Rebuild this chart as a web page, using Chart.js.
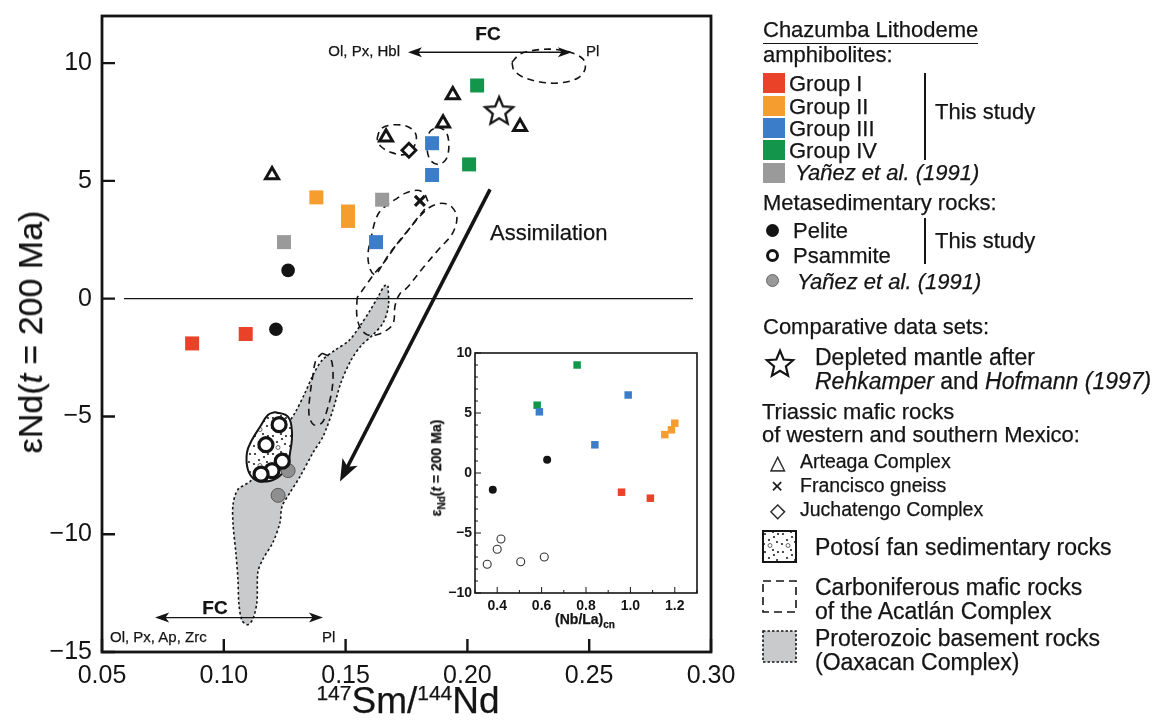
<!DOCTYPE html>
<html><head><meta charset="utf-8">
<script src="https://cdn.jsdelivr.net/npm/chart.js@4.4.1/dist/chart.umd.min.js"></script>
<style>
html,body{margin:0;padding:0;background:#fff;}
#wrap{position:relative;width:1159px;height:725px;overflow:hidden;font-family:"Liberation Sans",Arial,sans-serif;color:#141414;}
canvas{position:absolute;}
svg{position:absolute;}
.t{position:absolute;white-space:nowrap;line-height:1;transform:translateY(-50%);-webkit-text-stroke:0.25px #141414;}
</style></head><body>
<div id="wrap">
<canvas id="main" width="1159" height="725" style="left:0;top:0;width:1159px;height:725px"></canvas>
<canvas id="inset" width="280" height="290" style="left:425px;top:343px;width:280px;height:290px"></canvas>
<svg style="left:762px;top:580px" width="35" height="33"><rect x="1" y="1" width="33" height="31" fill="none" stroke="#141414" stroke-width="1.6" stroke-dasharray="8,5"/></svg>
<svg style="left:762px;top:630px" width="35" height="33"><rect x="1" y="1" width="33" height="31" fill="#c9cacb" stroke="#141414" stroke-width="1.6" stroke-dasharray="2.5,2"/></svg>
</div>
<script>
// ---------------- DATA (main panel: 147Sm/144Nd vs eNd) ----------------
const xTicks = [0.05, 0.10, 0.15, 0.20, 0.25, 0.30];
const yTicks = [-15, -10, -5, 0, 5, 10];

const groupI_x = [0.087, 0.109];            const groupI_y = [-1.9, -1.5];
const groupII_x = [0.138, 0.151, 0.151];    const groupII_y = [4.3, 3.7, 3.3];
const groupIII_x = [0.1625, 0.1855, 0.1855];const groupIII_y = [2.4, 5.25, 6.6];
const groupIV_x = [0.2007, 0.204];          const groupIV_y = [5.7, 9.05];
const yanezSq_x = [0.1247, 0.165];          const yanezSq_y = [2.4, 4.2];
const pelite_x = [0.1214, 0.1264];          const pelite_y = [-1.3, 1.2];
const psammite_x = [0.1227, 0.1173, 0.124, 0.1198, 0.1153];
const psammite_y = [-5.35, -6.2, -6.9, -7.3, -7.45];
const yanezCirc_x = [0.1264, 0.1223];       const yanezCirc_y = [-7.3, -8.35];
const arteaga_x = [0.1198, 0.1666, 0.190, 0.194, 0.2216];
const arteaga_y = [5.25, 6.85, 7.45, 8.65, 7.3];
const depleted_x = [0.213];                 const depleted_y = [8.0];
const francisco_x = [0.1805];               const francisco_y = [4.15];
const juchatengo_x = [0.176];               const juchatengo_y = [6.3];

const zeroLine_x = [0.059, 0.2926];         const zeroLine_y = [0, 0];

// Proterozoic basement field (Oaxacan Complex) outline
const prot_x = [0.1674,0.1676,0.1655,0.1610,0.1565,0.1522,0.1480,0.1448,0.1407,0.1366,0.1313,0.1272,0.1239,0.1231,0.1202,0.1161,0.1140,0.1136,0.1120,0.1099,
                0.1075,0.1062,0.1058,0.1050,0.1038,0.1038,0.1058,0.1108,0.1157,0.1198,0.1239,0.1292,0.1333,0.1366,0.1403,0.1456,0.1515,0.1560,0.1600,0.1636,0.1660,0.1674];
const prot_y = [0.55,-0.30,-1.01,-1.56,-1.98,-2.62,-3.59,-4.73,-5.86,-6.54,-7.55,-8.23,-8.82,-9.49,-10.34,-11.05,-11.60,-12.87,-13.59,-13.84,
                -13.67,-12.95,-11.90,-10.84,-9.58,-8.73,-8.10,-7.76,-7.17,-6.41,-5.70,-4.85,-4.01,-3.25,-2.62,-2.19,-1.77,-1.14,-0.51,0.13,0.55,0.55];
// Potosi fan field
const potosi_x = [0.1210,0.1264,0.1280,0.1272,0.1259,0.1222,0.1177,0.1128,0.1099,0.1095,0.1116,0.1149,0.1181,0.1210];
const potosi_y = [-4.81,-5.02,-5.70,-6.54,-7.13,-7.59,-7.76,-7.68,-7.26,-6.54,-5.99,-5.44,-4.94,-4.81];
// Carboniferous mafic rock fields (Acatlan Complex)
const carbA_x = [0.1629,0.1645,0.1695,0.1756,0.1789,0.1781,0.1744,0.1690,0.1645,0.1629];
const carbA_y = [6.79,7.21,7.38,7.30,6.96,6.46,6.12,6.20,6.46,6.79];
const carbB_x = [0.1879,0.1912,0.1924,0.1912,0.1879,0.1846,0.1834,0.1846,0.1879];
const carbB_y = [7.30,7.09,6.50,5.91,5.70,5.91,6.50,7.09,7.30];
const carbC_x = [0.1838,0.1822,0.1793,0.1744,0.1711,0.1674,0.1641,0.1621,0.1608,0.1592,0.1600,0.1621,0.1641,0.1682,0.1736,0.1785,0.1838];
const carbC_y = [4.13,4.47,4.60,4.47,4.26,4.01,3.71,3.29,2.74,1.90,1.27,1.01,1.27,1.94,2.62,3.29,3.97];
const carbD_x = [0.1547,0.1547,0.1567,0.1600,0.1654,0.1695,0.1703,0.1723,0.1752,0.1818,0.1887,0.1937,0.1957,0.1937,0.1896,0.1846,0.1805,0.1764,0.1711,0.1662,0.1621,0.1588,0.1547];
const carbD_y = [0.04,-0.80,-1.35,-1.56,-1.43,-1.05,-0.30,0.21,0.46,1.31,2.15,2.74,3.42,3.88,4.05,3.88,3.50,3.00,2.32,1.60,1.10,0.63,0.04];
const carbE_x = [0.1403,0.1436,0.1448,0.1444,0.1424,0.1403,0.1370,0.1350,0.1354,0.1366,0.1378,0.1403];
const carbE_y = [-2.32,-2.49,-3.04,-3.88,-4.73,-5.27,-5.36,-4.94,-4.09,-3.25,-2.62,-2.32];
const carbF_x = [0.2183,0.2216,0.2278,0.2347,0.2421,0.2475,0.2483,0.2454,0.2380,0.2298,0.2228,0.2191,0.2183];
const carbF_y = [10.04,10.38,10.55,10.59,10.46,10.17,9.75,9.37,9.16,9.20,9.41,9.70,10.04];

// process arrows [start, end]
const assim_x = [0.2093, 0.1477];   const assim_y = [4.64, -7.76];
const fcTop_x = [0.1756, 0.2429];   const fcTop_y = [10.46, 10.46];
const fcBot_x = [0.0718, 0.1407];   const fcBot_y = [-13.54, -13.54];

// ---------------- DATA (inset: (Nb/La)cn vs eNd) ----------------
const inXTicks = [0.4, 0.6, 0.8, 1.0, 1.2];
const inYTicks = [-10, -5, 0, 5, 10];
const inGroupI_x = [0.96, 1.09];            const inGroupI_y = [-1.6, -2.1];
const inGroupII_x = [1.155, 1.185, 1.2];    const inGroupII_y = [3.2, 3.6, 4.15];
const inGroupIII_x = [0.59, 0.84, 0.99];    const inGroupIII_y = [5.1, 2.35, 6.5];
const inGroupIV_x = [0.58, 0.76];           const inGroupIV_y = [5.65, 9.0];
const inPelite_x = [0.38, 0.625];           const inPelite_y = [-1.4, 1.1];
const inPsammite_x = [0.355, 0.4, 0.417, 0.506, 0.612];
const inPsammite_y = [-7.6, -6.35, -5.5, -7.4, -7.0];

// ---------------- STYLE ----------------
const FONT = '"Liberation Sans", Arial, sans-serif';
const INK = '#141414';
const C_RED = '#ea4129', C_ORA = '#f59d2f', C_BLU = '#3b7dc9', C_GRN = '#13964b', C_GRY = '#9a9a9a', C_FIELD = '#c9cacb';

const P = (xs, ys) => xs.map((v, i) => ({x: v, y: ys[i]}));

function starCanvas(size, lw) {
  const c = document.createElement('canvas'); c.width = c.height = size;
  const g = c.getContext('2d'); const cx = size / 2, cy = size / 2 + 1.5, R = size / 2 - lw, r = R * 0.45;
  g.beginPath();
  for (let i = 0; i < 10; i++) { const a = -Math.PI / 2 + i * Math.PI / 5; const rr = i % 2 ? r : R; g.lineTo(cx + rr * Math.cos(a), cy + rr * Math.sin(a)); }
  g.closePath(); g.fillStyle = '#fff'; g.fill(); g.lineWidth = lw; g.strokeStyle = INK; g.lineJoin = 'miter'; g.stroke();
  return c;
}
function patternTile() {
  const c = document.createElement('canvas'); c.width = 18; c.height = 18;
  const g = c.getContext('2d'); g.fillStyle = '#fff'; g.fillRect(0, 0, 18, 18);
  g.fillStyle = '#222';
  [[3,4],[11,2],[7,10],[15,12],[2,14],[12,7],[16,4]].forEach(([a,b]) => { g.beginPath(); g.arc(a, b, 1.1, 0, 7); g.fill(); });
  g.strokeStyle = '#444'; g.lineWidth = 0.8; g.beginPath(); g.arc(8, 15.5, 2, 0, 7); g.stroke();
  return c;
}

function arrowHead(ctx, x1, y1, x2, y2, len, hw) {
  const a = Math.atan2(y2 - y1, x2 - x1), ca = Math.cos(a), sa = Math.sin(a);
  ctx.beginPath();
  ctx.moveTo(x2, y2);
  ctx.lineTo(x2 - len * ca + hw * sa, y2 - len * sa - hw * ca);
  ctx.lineTo(x2 - len * 0.75 * ca, y2 - len * 0.75 * sa);
  ctx.lineTo(x2 - len * ca - hw * sa, y2 - len * sa + hw * ca);
  ctx.closePath(); ctx.fill();
}
function arrow(ctx, xs, ys, sx, sy, lw, len, hw, both) {
  const x1 = sx.getPixelForValue(xs[0]), y1 = sy.getPixelForValue(ys[0]);
  const x2 = sx.getPixelForValue(xs[1]), y2 = sy.getPixelForValue(ys[1]);
  const a = Math.atan2(y2 - y1, x2 - x1);
  ctx.lineWidth = lw; ctx.strokeStyle = INK; ctx.fillStyle = INK;
  ctx.beginPath();
  ctx.moveTo(both ? x1 + len * 0.7 * Math.cos(a) : x1, both ? y1 + len * 0.7 * Math.sin(a) : y1);
  ctx.lineTo(x2 - len * 0.7 * Math.cos(a), y2 - len * 0.7 * Math.sin(a));
  ctx.stroke();
  arrowHead(ctx, x1, y1, x2, y2, len, hw);
  if (both) arrowHead(ctx, x2, y2, x1, y1, len, hw);
}

const mainDecor = {
  id: 'mainDecor',
  afterDatasetsDraw(chart) {
    const {ctx, chartArea: a, scales: {x, y}} = chart;
    ctx.save();
    arrow(ctx, assim_x, assim_y, x, y, 3.6, 22, 8.5, false);
    arrow(ctx, fcTop_x, fcTop_y, x, y, 1.4, 14, 5, true);
    arrow(ctx, fcBot_x, fcBot_y, x, y, 1.4, 14, 5, true);
    ctx.strokeStyle = INK; ctx.lineWidth = 2.8;
    ctx.strokeRect(a.left, a.top, a.width, a.height);
    ctx.lineWidth = 2.4;
    ctx.beginPath();
    xTicks.forEach(v => { const p = x.getPixelForValue(v); ctx.moveTo(p, a.bottom); ctx.lineTo(p, a.bottom - 13); });
    yTicks.forEach(v => { const p = y.getPixelForValue(v); ctx.moveTo(a.left, p); ctx.lineTo(a.left + 13, p); });
    ctx.stroke();
    ctx.restore();
  }
};

const mainCtx = document.getElementById('main').getContext('2d');
const potosiPattern = mainCtx.createPattern(patternTile(), 'repeat');
const starImg = starCanvas(34, 2.3);

const sq = (label, xs, ys, col, r) => ({label, data: P(xs, ys), pointStyle: 'rect', pointRadius: r, backgroundColor: col, borderColor: col, borderWidth: 0, showLine: false, order: 2});
const shape = (label, xs, ys, opts) => Object.assign({label, data: P(xs, ys), showLine: true, pointRadius: 0, tension: 0.35, fill: false, borderColor: INK, borderWidth: 1.6, borderDash: [7, 5], order: 18}, opts);

new Chart(mainCtx, {
  type: 'scatter',
  data: {datasets: [
    shape('Oaxacan', prot_x, prot_y, {fill: 'shape', backgroundColor: C_FIELD, borderDash: [2.5, 2.5], borderWidth: 1.6, tension: 0.3, order: 30}),
    shape('Carb A', carbA_x, carbA_y, {}),
    shape('Carb B', carbB_x, carbB_y, {}),
    shape('Carb C', carbC_x, carbC_y, {}),
    shape('Carb D', carbD_x, carbD_y, {}),
    shape('Carb E', carbE_x, carbE_y, {}),
    shape('Carb F', carbF_x, carbF_y, {}),
    shape('Potosi', potosi_x, potosi_y, {fill: 'shape', backgroundColor: potosiPattern, borderDash: [], borderWidth: 2, tension: 0.4, order: 12}),
    {label: 'zero', data: P(zeroLine_x, zeroLine_y), showLine: true, pointRadius: 0, borderColor: INK, borderWidth: 1.4, order: 15},
    sq('Group I', groupI_x, groupI_y, C_RED, 9.9),
    sq('Group II', groupII_x, groupII_y, C_ORA, 9.9),
    sq('Group III', groupIII_x, groupIII_y, C_BLU, 9.9),
    sq('Group IV', groupIV_x, groupIV_y, C_GRN, 9.9),
    sq('Yanez sq', yanezSq_x, yanezSq_y, C_GRY, 9.9),
    {label: 'Pelite', data: P(pelite_x, pelite_y), pointStyle: 'circle', pointRadius: 6.8, backgroundColor: INK, borderColor: INK, borderWidth: 0, order: 2},
    {label: 'Psammite', data: P(psammite_x, psammite_y), pointStyle: 'circle', pointRadius: 7, backgroundColor: '#fff', borderColor: INK, borderWidth: 3.2, order: 1},
    {label: 'Yanez circ', data: P(yanezCirc_x, yanezCirc_y), pointStyle: 'circle', pointRadius: 7, backgroundColor: '#8f8f8f', borderColor: '#5a5a5a', borderWidth: 1, order: 2},
    {label: 'Arteaga', data: P(arteaga_x, arteaga_y), pointStyle: 'triangle', pointRadius: 7.5, backgroundColor: '#fff', borderColor: INK, borderWidth: 3, order: 2},
    {label: 'Depleted', data: P(depleted_x, depleted_y), pointStyle: starImg, pointRadius: 15, order: 2},
    {label: 'Francisco', data: P(francisco_x, francisco_y), pointStyle: 'crossRot', pointRadius: 7, borderColor: INK, borderWidth: 3.2, order: 2},
    {label: 'Juchatengo', data: P(juchatengo_x, juchatengo_y), pointStyle: 'rectRot', pointRadius: 7, backgroundColor: '#fff', borderColor: INK, borderWidth: 2.8, order: 2}
  ]},
  options: {
    responsive: false, animation: false, events: [],
    layout: {padding: {left: 0, top: 14, right: 448, bottom: 0}},
    plugins: {legend: {display: false}, tooltip: {enabled: false}},
    scales: {
      x: {type: 'linear', min: 0.05, max: 0.30,
          afterBuildTicks: s => { s.ticks = xTicks.map(v => ({value: v})); },
          afterFit: s => { s.height = 73; s.paddingLeft = 0; s.paddingRight = 0; },
          grid: {display: false, drawTicks: false}, border: {display: false},
          ticks: {padding: 9, color: INK, font: {family: FONT, size: 25}, maxRotation: 0, autoSkip: false, callback: v => v.toFixed(2)}},
      y: {type: 'linear', min: -15, max: 12,
          afterBuildTicks: s => { s.ticks = yTicks.map(v => ({value: v})); },
          afterFit: s => { s.width = 102; s.paddingTop = 0; s.paddingBottom = 0; },
          grid: {display: false, drawTicks: false}, border: {display: false},
          ticks: {padding: 10, color: INK, font: {family: FONT, size: 25}, autoSkip: false, callback: v => v < 0 ? '\u2212' + Math.abs(v) : String(v)}}
    }
  },
  plugins: [mainDecor]
});

// ---------------- INSET ----------------
const insetDecor = {
  id: 'insetDecor',
  beforeDatasetsDraw(chart) {
    const {ctx, chartArea: a} = chart;
    ctx.save(); ctx.fillStyle = '#fff'; ctx.fillRect(a.left, a.top, a.width, a.height); ctx.restore();
  },
  afterDatasetsDraw(chart) {
    const {ctx, chartArea: a, scales: {x, y}} = chart;
    ctx.save();
    ctx.strokeStyle = INK; ctx.lineWidth = 1.6;
    ctx.strokeRect(a.left, a.top, a.width, a.height);
    ctx.lineWidth = 1;
    ctx.beginPath();
    for (let v = -10; v <= 10; v++) { const p = y.getPixelForValue(v); const L = v % 5 === 0 ? 6 : 3; ctx.moveTo(a.left, p); ctx.lineTo(a.left + L, p); }
    for (let k = 3; k <= 13; k++) { const p = x.getPixelForValue(k / 10); const L = k % 2 === 0 ? 6 : 3; ctx.moveTo(p, a.bottom); ctx.lineTo(p, a.bottom - L); }
    ctx.stroke();
    ctx.restore();
  }
};
const isq = (label, xs, ys, col) => ({label, data: P(xs, ys), pointStyle: 'rect', pointRadius: 5.3, backgroundColor: col, borderWidth: 0});
new Chart(document.getElementById('inset').getContext('2d'), {
  type: 'scatter',
  data: {datasets: [
    isq('Group I', inGroupI_x, inGroupI_y, C_RED),
    isq('Group II', inGroupII_x, inGroupII_y, C_ORA),
    isq('Group III', inGroupIII_x, inGroupIII_y, C_BLU),
    isq('Group IV', inGroupIV_x, inGroupIV_y, C_GRN),
    {label: 'Pelite', data: P(inPelite_x, inPelite_y), pointStyle: 'circle', pointRadius: 4, backgroundColor: INK, borderWidth: 0},
    {label: 'Psammite', data: P(inPsammite_x, inPsammite_y), pointStyle: 'circle', pointRadius: 4, backgroundColor: '#fff', borderColor: '#333', borderWidth: 1.1}
  ]},
  options: {
    responsive: false, animation: false, events: [],
    layout: {padding: {left: 0, top: 10, right: 8, bottom: 0}},
    plugins: {legend: {display: false}, tooltip: {enabled: false}},
    scales: {
      x: {type: 'linear', min: 0.3, max: 1.3,
          afterBuildTicks: s => { s.ticks = inXTicks.map(v => ({value: v})); },
          afterFit: s => { s.height = 40; s.paddingLeft = 0; s.paddingRight = 0; },
          grid: {display: false, drawTicks: false}, border: {display: false},
          ticks: {padding: 5, color: INK, font: {family: FONT, size: 14, weight: 'bold'}, maxRotation: 0, autoSkip: false, callback: v => v.toFixed(1)}},
      y: {type: 'linear', min: -10, max: 10,
          afterBuildTicks: s => { s.ticks = inYTicks.map(v => ({value: v})); },
          afterFit: s => { s.width = 50; s.paddingTop = 0; s.paddingBottom = 0; },
          grid: {display: false, drawTicks: false}, border: {display: false},
          ticks: {padding: 3, color: INK, font: {family: FONT, size: 14, weight: 'bold'}, autoSkip: false, callback: v => v < 0 ? '\u2212' + Math.abs(v) : String(v)}}
    }
  },
  plugins: [insetDecor]
});

// ---------------- TEXT & LEGEND (HTML) ----------------
const wrap = document.getElementById('wrap');
function txt(x, cy, html, size, style = '') {
  const d = document.createElement('div'); d.className = 't';
  d.style.cssText = `left:${x}px;top:${cy}px;font-size:${size}px;${style}`;
  d.innerHTML = html; wrap.appendChild(d); return d;
}
function box(x, y, w, h, style) {
  const d = document.createElement('div');
  d.style.cssText = `position:absolute;left:${x}px;top:${y}px;width:${w}px;height:${h}px;box-sizing:border-box;${style}`;
  wrap.appendChild(d); return d;
}
// axis titles
txt(30, 332, 'ε<span>Nd</span>(<i>t</i> = 200 Ma)', 34, 'transform:translate(-50%,-50%) rotate(-90deg);');
txt(408, 700, '<span style="font-size:21px;vertical-align:top;">147</span>Sm/<span style="font-size:21px;vertical-align:top;">144</span>Nd', 37, 'transform:translate(-50%,-50%);');
// annotations
txt(488, 33, 'FC', 19, 'font-weight:bold;transform:translate(-50%,-50%);');
txt(400, 50, 'Ol, Px, Hbl', 15, 'transform:translate(-100%,-50%);');
txt(586, 50, 'Pl', 15);
txt(490, 233, 'Assimilation', 22);
txt(215, 607, 'FC', 19, 'font-weight:bold;transform:translate(-50%,-50%);');
txt(110, 636, 'Ol, Px, Ap, Zrc', 15);
txt(322, 636, 'Pl', 15);
// inset titles
txt(438, 468, 'ε<sub style="font-size:10px">Nd</sub>(<i>t</i> = 200 Ma)', 14, 'font-weight:bold;transform:translate(-50%,-50%) rotate(-90deg);');
txt(585, 621, '(Nb/La)<sub style="font-size:10px">cn</sub>', 14, 'font-weight:bold;transform:translate(-50%,-50%);');

// legend
const LF = 22;
txt(763, 30, '<span style="border-bottom:1.6px solid #141414;padding-bottom:1px">Chazumba Lithodeme</span>', LF);
txt(763, 55, 'amphibolites:', LF);
[[C_RED, 73, 'Group I'], [C_ORA, 96, 'Group II'], [C_BLU, 118, 'Group III'], [C_GRN, 140, 'Group IV']].forEach(([c, t, l]) => {
  box(763, t, 22, 19.5, `background:${c}`);
  txt(789, t + 10.5, l, LF);
});
box(763, 163, 22, 19.5, `background:${C_GRY}`);
txt(795, 173, '<i>Yañez et al. (1991)</i>', LF);
box(924, 73, 1.6, 87, 'background:#141414');
txt(935, 112, 'This study', LF);
txt(763, 203, 'Metasedimentary rocks:', LF);
box(766, 224, 13, 13, 'background:#141414;border-radius:50%');
txt(793, 231, 'Pelite', LF);
box(766, 249, 13, 13, 'background:#fff;border:3px solid #141414;border-radius:50%');
txt(793, 256, 'Psammite', LF);
box(766, 274, 13, 13, 'background:#999;border:1px solid #666;border-radius:50%');
txt(797, 282, '<i>Yañez et al. (1991)</i>', LF);
box(924, 218, 1.6, 46, 'background:#141414');
txt(935, 241, 'This study', LF);
txt(763, 327, 'Comparative data sets:', LF);
const lgStar = starCanvas(32, 2.2); lgStar.style.cssText = 'left:764px;top:347px;';
wrap.appendChild(lgStar);
txt(815, 357, 'Depleted mantle after', 23);
txt(815, 381, '<i>Rehkamper</i> and <i>Hofmann (1997)</i>', 23);
txt(762, 412, 'Triassic mafic rocks', LF);
txt(762, 435, 'of western and southern Mexico:', LF);
txt(777, 462, '△', 20, 'transform:translate(-50%,-50%);');
txt(800, 462, 'Arteaga Complex', 19.5);
txt(777, 486, '×', 20, 'transform:translate(-50%,-50%);');
txt(800, 486, 'Francisco gneiss', 19.5);
txt(777, 510, '◇', 20, 'transform:translate(-50%,-50%);');
txt(800, 510, 'Juchatengo Complex', 19.5);
const pc = document.createElement('canvas'); pc.width = 35; pc.height = 33; pc.style.cssText = 'left:762px;top:530px;';
{ const g = pc.getContext('2d'); g.fillStyle = g.createPattern(patternTile(), 'repeat'); g.fillRect(0, 0, 35, 33); g.lineWidth = 2; g.strokeStyle = INK; g.strokeRect(1, 1, 33, 31); }
wrap.appendChild(pc);
txt(815, 547, 'Potosí fan sedimentary rocks', 23);
txt(815, 587, 'Carboniferous mafic rocks', 23);
txt(815, 611, 'of the Acatlán Complex', 23);
txt(815, 638, 'Proterozoic basement rocks', 23);
txt(815, 662, '(Oaxacan Complex)', 23);
</script>
</body></html>
